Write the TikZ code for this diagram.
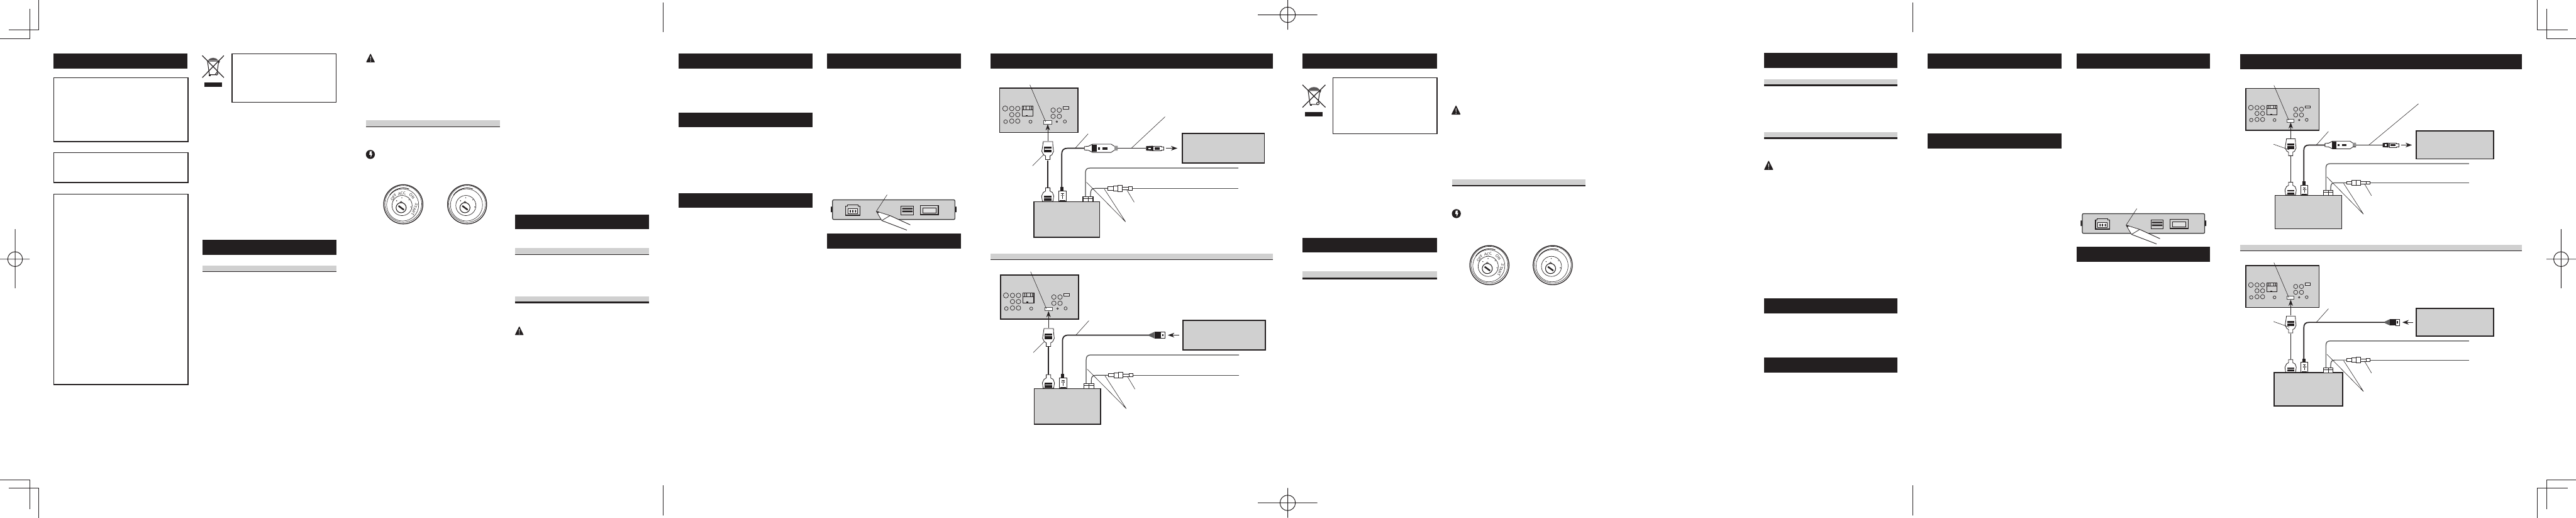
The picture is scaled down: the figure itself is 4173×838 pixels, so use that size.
\documentclass[tikz,border=0pt]{standalone}
\definecolor{blk}{HTML}{231F20}
\definecolor{gry}{HTML}{D0D0D0}
\tikzset{
 barb/.style={fill=blk,draw=none},
 band/.style={fill=gry,draw=none},
 rule/.style={draw=blk,line width=.3pt},
 rulek/.style={draw=blk,line width=.8pt},
 framebox/.style={draw=blk,line width=.32pt,fill=white},
 crop/.style={draw=blk,line width=.24pt},
 greybox/.style={draw=blk,line width=.42pt,fill=gry},
 lead/.style={draw=blk,line width=.14pt},
 wire/.style={draw=blk,line width=.42pt},
 gwire/.style={draw=black!70,line width=.3pt},
 part/.style={draw=blk,line width=.2pt,fill=white},
 hole/.style={draw=blk,line width=.17pt},
 ilbl/.style={inner sep=0pt,font=\fontsize{1.5}{1.7}\selectfont\sffamily,text=blk},
}
\newcommand{\barH}[4]{\fill[barb] (#1,#3) rectangle (#2,#4);}
\newcommand{\bandH}[5]{\fill[band] (#1,#3) rectangle (#2,#4);\draw[#5] (#1,#4) -- (#2,#4);}
\newcommand{\warn}[3]{% left, bottom, scale
 \begin{scope}[shift={(#1,#2)},scale=#3]
 \fill[blk,rounded corners=.2pt] (0,0) -- (7.2,-14.5) -- (14.5,0) -- cycle;
 \fill[white] (6.7,-9.5) -- (7.9,-9.5) -- (7.6,-3.4) -- (7,-3.4) -- cycle;
 \fill[white] (7.3,-1.8) circle (.7);
 \end{scope}}
\newcommand{\bolt}[2]{%
 \fill[blk] (#1,#2) circle (7.3);
 \fill[white] ($(#1,#2)+(-1,-5)$) -- ($(#1,#2)+(2.6,-5)$) -- ($(#1,#2)+(1.4,-1.6)$) -- ($(#1,#2)+(3.2,-1.4)$) -- ($(#1,#2)+(.6,5)$) -- ($(#1,#2)+(.4,.8)$) -- ($(#1,#2)+(-1.8,.6)$) -- cycle;}
\newcommand{\ign}[2]{%
 \begin{scope}[shift={(#1,#2)}]
 \draw[blk,line width=.3pt] (0,0) circle (31.7);
 \draw[blk,line width=.14pt] (0,-.6) circle (29.8);
 \draw[blk,line width=.14pt] (-1,1) circle (26);
 \draw[blk,line width=.22pt] (-22,-15) arc[start angle=-145,end angle=-70,radius=27];
 \draw[blk,line width=.16pt] (-2,2) circle (16.3);
 \draw[blk,line width=.26pt] (-3.5,5.5) circle (8.2);
 \draw[blk,line width=.14pt] (-3.5,-5) -- (-5.5,-2.8) -- (-1.5,-2.8) -- cycle;
 \draw[blk,line width=.6pt] (-7.8,2.5) -- (1,9);
 \foreach \p in {(-10.7,-5.7),(-2.3,-10.7),(9.3,-7.3),(12.3,4.3)} \fill[blk] \p circle (.8);
 \end{scope}}
\newcommand{\ignlabels}[3]{%
 \begin{scope}[shift={(#1,#2)}]
 \node[ilbl,rotate=54] (#3off) at (-15.5,-11.5) {OFF};
 \node[ilbl,rotate=8] (#3acc) at (-2.3,-17.6) {ACC};
 \node[ilbl,rotate=-47] (#3on) at (14,-13) {ON};
 \node[ilbl,rotate=-112] (#3start) at (18,8) {START};
 \end{scope}}
\newcommand{\binicon}[4]{% x y sx sy ; drawn in a 35x35.7 frame
 \begin{scope}[shift={(#1,#2)},xscale=#3,yscale=#4]
 \draw[blk,line width=.3pt] (0,0) -- (35,35.7) (35,0) -- (0,35.7);
 \draw[blk,line width=.26pt] (8.5,9) -- (26.5,9) -- (23.5,31) -- (11.5,31) -- cycle;
 \fill[blk!75] (9,8) .. controls (12,2) and (23,2) .. (26,8) -- cycle;
 \draw[blk,line width=.2pt] (26,9) -- (28,9) -- (27,12);
 \draw[blk,line width=.24pt,fill=white] (23.5,29.5) circle (2);
 \fill[blk] (11,31) rectangle (14,33);
 \end{scope}}
\newcommand{\devbox}[2]{%
 \begin{scope}[shift={(#1,#2)}]
 \fill[blk] (1346,334.5) rectangle (1349,343.5) (1546.5,334.5) rectangle (1549.5,343.5);
 \draw[draw=black!80,line width=.3pt,fill=gry,rounded corners=.5pt] (1348.7,323.4) rectangle (1546.9,355.4);
 \draw[part,fill=gry,line width=.3pt] (1370,334) -- (1373,334) -- (1373,331.5) -- (1390,331.5) -- (1390,334) -- (1393,334) -- (1393,348.5) -- (1370,348.5) -- cycle;
 \draw[part,line width=.24pt] (1374,338) rectangle (1389,345.5);
 \fill[blk] (1376.5,340) rectangle (1378.5,344) (1380.5,340) rectangle (1382.5,344) (1385,340) rectangle (1387,344);
 \draw[part,fill=gry] (1459.8,334) rectangle (1480,347.5);
 \fill[blk] (1461.5,336.5) rectangle (1478.5,339) (1461.5,341) rectangle (1478.5,343.5);
 \draw[part,fill=gry,line width=.3pt] (1490.6,333) rectangle (1520,347.5);
 \draw[part,line width=.26pt,fill=gry!60] (1495,337) rectangle (1516,344.5);
 \draw[lead] (1437,315.3) -- (1419.6,342);
 \fill[white] (1419.6,342) -- (1441.8,349) -- (1476,364) -- (1470,373.5) -- (1428.4,357) -- cycle;
 \draw[blk,line width=.18pt] (1419.6,342) -- (1441.8,349) (1419.6,342) -- (1428.4,357) (1428.4,357) -- (1441.8,349);
 \fill[blk] (1419.6,342) -- (1424,342.7) -- (1422.6,345.3) -- cycle;
 \draw[blk,line width=.22pt] (1441.8,349) -- (1474.6,364) (1428.4,357) -- (1469,372.5);
 \end{scope}}
% \wiring{X}{Y}{sx}{sy}{mainL}{mainR}{variant}{conn-lead a}{conn-lead b}
\newcommand{\wiring}[9]{%
 \begin{scope}[shift={(#1,#2)},xscale=#3,yscale=#4]
 % rear panel
 \draw[greybox] (88,68) rectangle (469,283);
 \foreach \cx/\cy/\cr in {115/167/12.5,147/167/11,176/167/11,147/197/11,176/197/11,117/231/9,147/228/11,176/228/11,238/231/7.5,348/175/11,378/175/11,348/205/11,378/205/11,405/230/7.5,366/231/4}
   \draw[hole] (\cx,\cy) circle (\cr);
 \draw[hole,line width=.26pt] (197,155) rectangle (251,203);
 \draw[hole] (197,172) -- (251,172) (205,155) rectangle (215,172) (233,155) rectangle (243,172);
 \fill[blk] (215,198) rectangle (225,203);
 \draw[hole,fill=gry!50] (396,157) rectangle (423,169);
 \draw[part,draw=black!70] (303,226) rectangle (340,242);
 \draw[lead] (235,52) -- (312,232);
 \draw[-{Stealth[length=2.4pt,width=1.7pt]},blk,line width=.22pt] (322,325) -- (322,243);
 % main cable
 \draw[wire] (322,418) -- (322,552);
 \draw[part] (300,328) -- (346,328) -- (347,350) -- (350,375) -- (342,392) -- (333,397) -- (333,415) -- (311,415) -- (311,397) -- (302,392) -- (293,375) -- (297,350) -- cycle;
 \fill[blk] (304,352) rectangle (341,380);
 \fill[white] (306,362) rectangle (339,366);
 \draw[part] (311,552) -- (333,552) -- (333,568) -- (345,575) -- (351,592) -- (347,618) -- (296,618) -- (292,592) -- (300,575) -- (311,568) -- cycle;
 \fill[blk] (303,592) rectangle (341,614);
 \fill[white] (305,600) rectangle (339,604);
 % main unit
 \draw[greybox] (#5,620) rectangle (#6,792);
 % usb
 \fill[blk] (382,548) rectangle (398,567);
 \draw[part,line width=.26pt] (374,567) rectangle (412,618);
 \fill[blk] (380,612) rectangle (406,618);
 \draw[blk,line width=.18pt] (386,580) -- (400,580) (393,580) -- (393,606) (386,592) -- (386,586) (400,592) -- (400,586);
 % right unit
 \draw[greybox] (975,288) rectangle (1375,432);
 % grey cable
 \draw[gwire] (505,595) -- (505,480) .. controls (505,462) and (512,456) .. (530,456) -- (1248,456);
 \draw[gwire] (530,595) -- (530,580) .. controls (530,562) and (536,555) .. (552,555) -- (612,555);
 \draw[gwire] (733,555) -- (1248,555);
 \draw[part,line width=.26pt] (493,595) rectangle (542,620);
 \draw[blk,line width=.18pt] (493,603) -- (542,603) (519,595) -- (519,620);
 % inline connector
 \draw[part] (612,547) rectangle (640,563);
 \draw[part] (640,543) rectangle (663,567);
 \draw[part] (663,541) rectangle (684,569);
 \draw[part] (684,548) rectangle (715,562);
 \draw[part] (715,547) rectangle (733,563);
 \draw[lead] (510,525) -- (700,717) (597,558) -- (700,717) (705,560) -- (742,622);
 \draw[lead] #8 -- #9;
 \ifnum#7=0
  % y-cable
  \draw[wire] (390,548) -- (390,390) .. controls (390,368) and (398,360) .. (420,360) -- (500,360);
  \draw[wire] (660,360) -- (800,360);
  \draw[part] (500,352) -- (520,350) -- (540,340) -- (630,340) -- (645,350) -- (660,350) -- (660,370) -- (645,370) -- (630,380) -- (540,380) -- (520,370) -- (500,368) -- cycle;
  \fill[blk] (535,342) rectangle (560,378);
  \fill[gry!70!black] (645,350) rectangle (660,370);
  \fill[blk] (565,354) rectangle (575,366);
  \fill[blk] (588,354) rectangle (612,366);
  \draw[part] (835,349) -- (872,349) -- (872,352) -- (885,352) -- (885,369) -- (872,369) -- (872,372) -- (835,372) -- cycle;
  \fill[blk] (800,350) -- (832,348) -- (832,373) -- (800,371) -- cycle;
  \fill[blk] (840,355) rectangle (866,366);
  \fill[white] (812,357) rectangle (822,364);
  \draw[-{Stealth[length=2.5pt,width=1.8pt]},blk,line width=.24pt] (895,360) -- (952,360);
  \draw[lead] (518,290) -- (455,360);
  \draw[lead] \longleadend -- (728,360);
 \else
  \draw[wire] (390,548) -- (390,390) .. controls (390,368) and (398,360) .. (420,360) -- (811,360);
  \fill[gry!45!black] (811,356) -- (837,344) -- (837,376) -- (811,364) -- cycle;
  \fill[blk] (837,344) rectangle (868,376);
  \draw[part] (868,344) rectangle (887,376);
  \fill[blk] (874,354) rectangle (880,366);
  \draw[-{Stealth[length=2.5pt,width=1.8pt]},blk,line width=.24pt] (958,360) -- (902,360);
  \draw[lead] (518,290) -- (455,360);
 \fi
 \end{scope}}
\usetikzlibrary{calc,arrows.meta}
\begin{document}
\begin{tikzpicture}[x=.24pt,y=-.24pt]
\useasboundingbox (0,0) rectangle (4173,838);
\fill[white] (0,0) rectangle (4173,838);
%% crop marks
\draw[crop] (62.4,0) -- (62.4,48.6) -- (14,48.6) (48.4,14.4) -- (48.4,62.5) -- (0,62.5);
\draw[crop] (0,776.6) -- (48.4,776.6) -- (48.4,824) (14,790) -- (62.4,790) -- (62.4,838);
\draw[crop] (4110.6,0) -- (4110.6,48.6) -- (4159.6,48.6) (4125.3,14.4) -- (4125.3,62.5) -- (4173,62.5);
\draw[crop] (4173,776.6) -- (4125.3,776.6) -- (4125.3,824) (4159.6,790) -- (4110.6,790) -- (4110.6,838);
\draw[crop] (24.5,371) -- (24.5,466.6) (0,419.5) -- (48,419.5) (24.5,419.5) circle (12);
\draw[crop] (4148.8,371) -- (4148.8,466.6) (4125.3,419.5) -- (4173,419.5) (4148.8,419.5) circle (12);
\draw[crop] (2086,0) -- (2086,48) (2037.7,24) -- (2134,24) (2086,24) circle (12.5);
\draw[crop] (2086,790) -- (2086,838) (2037.7,814) -- (2134,814) (2086,814) circle (12.5);
\draw[crop] (1074,4) -- (1074,52) (1074,786) -- (1074,834);
\draw[crop] (3098.5,4) -- (3098.5,52) (3098.5,786) -- (3098.5,834);
%% page 1
\barH{87}{304}{87}{111}
\draw[framebox] (87,125.6) rectangle (304.5,229.3);
\draw[framebox] (87,247) rectangle (304.5,295.6);
\draw[framebox] (87,314.3) rectangle (304.5,622.6);
\binicon{327.7}{90}{1}{1}
\barH{331}{360}{133}{141}
\draw[framebox] (376,87.3) rectangle (544.5,165.5);
\barH{328.3}{545}{388}{413}
\bandH{328.3}{545}{430}{439.5}{rule}
\warn{593}{101}{1}
\bandH{592.8}{810}{195}{205}{rule}
\bolt{600}{250}
\ign{653.3}{330.7}\ignlabels{653.3}{330.7}{a}
\ign{756.7}{330.7}
\barH{834}{1051}{347}{370.4}
\bandH{834}{1051}{401}{412}{rule}
\bandH{834}{1051}{480}{489.5}{rulek}
\warn{834}{542.5}{1}
%% page 2
\barH{1098.9}{1315.9}{87}{111}
\barH{1098.9}{1315.9}{182.8}{206.3}
\barH{1098.9}{1315.9}{312.7}{336.2}
\barH{1340}{1557}{87}{111}
\barH{1340}{1557}{377.9}{402}
\devbox{0}{0}
\barH{1605}{2062}{87}{111}
\def\longleadend{(892,207)}
\wiring{1590}{120}{.33333}{.33333}{254}{574}{0}{(303,390)}{(248,445)}
\bandH{1605}{2062}{411}{420.5}{rule}
\wiring{1591.2}{422.5}{.33333}{.33333}{253}{575}{1}{(303,390)}{(248,445)}
%% page 3
\barH{2110}{2327.8}{87}{111}
\binicon{2110}{137.4}{1.06}{1.02}
\barH{2114}{2143}{181}{188}
\draw[framebox] (2159,125.6) rectangle (2327.8,216.5);
\barH{2110}{2327.5}{384.8}{408.9}
\bandH{2110}{2327.5}{438.8}{451}{rulek}
\warn{2351}{185.5}{1.05}
\bandH{2352}{2568}{290.2}{300.5}{rule}
\bolt{2359.2}{345.8}
\ign{2412.8}{429.2}\ignlabels{2412.8}{429.2}{b}
\ign{2515.3}{429.2}
%% page 4
\barH{2858}{3073.8}{86}{110}
\bandH{2858}{3073.8}{128.3}{138}{rulek}
\bandH{2858}{3073.8}{213.8}{224}{rulek}
\warn{2857.5}{275}{1.05}
\barH{2858}{3073.8}{483}{507}
\barH{2858}{3073.8}{578.8}{603}
\barH{3122.5}{3339.5}{87}{111}
\barH{3122.5}{3339.5}{216}{240}
\barH{3363.8}{3580}{87}{111}
\barH{3363.8}{3580}{399.8}{424}
\devbox{2024.5}{22.4}
\barH{3629}{4085.7}{88}{112}
\def\longleadend{(986,147)}
\wiring{3610.4}{121.9}{.3118}{.3135}{241}{587}{0}{(315,385)}{(233,356)}
\bandH{3629}{4085.7}{396.6}{406}{rule}
\wiring{3610.4}{408.9}{.3118}{.3135}{236}{592}{1}{(315,385)}{(233,356)}
\end{tikzpicture}
\end{document}
